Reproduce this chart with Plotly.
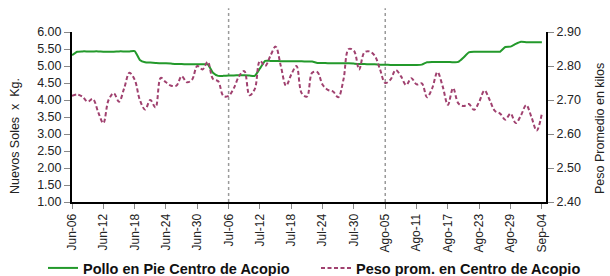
import pandas as pd
import plotly.graph_objects as go

# ---- data ----
start_date = "2014-06-06"
pollo_precio = [
    5.32, 5.42, 5.43, 5.43, 5.43, 5.43, 5.42, 5.42, 5.42, 5.43,
    5.43, 5.43, 5.44, 5.18, 5.11, 5.10, 5.09, 5.08, 5.08, 5.07,
    5.06, 5.06, 5.05, 5.05, 5.05, 5.05, 5.05, 4.80, 4.71, 4.71,
    4.72, 4.72, 4.73, 4.73, 4.72, 4.71, 4.93, 5.15, 5.15, 5.15,
    5.14, 5.14, 5.14, 5.14, 5.14, 5.13, 5.13, 5.09, 5.09, 5.08,
    5.08, 5.08, 5.08, 5.08, 5.07, 5.06, 5.06, 5.05, 5.05, 5.04,
    5.04, 5.03, 5.03, 5.03, 5.03, 5.03, 5.03, 5.04, 5.11, 5.12,
    5.12, 5.12, 5.12, 5.11, 5.12, 5.25, 5.40, 5.42, 5.42, 5.42,
    5.42, 5.42, 5.42, 5.56, 5.57, 5.65, 5.71, 5.70, 5.70, 5.70,
    5.70,
]
peso_prom = [
    2.712, 2.716, 2.710, 2.695, 2.703, 2.665, 2.632, 2.700, 2.720, 2.695,
    2.735, 2.780, 2.760, 2.700, 2.672, 2.700, 2.678, 2.765, 2.752, 2.742,
    2.742, 2.770, 2.752, 2.760, 2.800, 2.790, 2.812, 2.762, 2.755, 2.712,
    2.712, 2.735, 2.770, 2.785, 2.714, 2.732, 2.815, 2.800, 2.830, 2.857,
    2.800, 2.742, 2.775, 2.800, 2.720, 2.710, 2.780, 2.782, 2.745, 2.730,
    2.725, 2.708, 2.760, 2.850, 2.845, 2.790, 2.840, 2.843, 2.830, 2.790,
    2.750, 2.760, 2.788, 2.770, 2.744, 2.764, 2.746, 2.749, 2.708, 2.735,
    2.782, 2.740, 2.686, 2.735, 2.690, 2.682, 2.688, 2.671, 2.695, 2.728,
    2.700, 2.668, 2.660, 2.642, 2.660, 2.632, 2.655, 2.685, 2.650, 2.610,
    2.660,
]
tick_labels = ["Jun-06", "Jun-12", "Jun-18", "Jun-24", "Jun-30", "Jul-06",
               "Jul-12", "Jul-18", "Jul-24", "Jul-30", "Ago-05", "Ago-11",
               "Ago-17", "Ago-23", "Ago-29", "Sep-04"]
marker_dates = ["2014-07-06", "2014-08-05"]
serie1_name = "Pollo en Pie Centro de Acopio"
serie2_name = "Peso prom. en Centro de Acopio"
left_title = "Nuevos Soles  x  Kg."
right_title = "Peso Promedio en kilos"

dates = pd.date_range(start_date, periods=len(pollo_precio), freq="D")
tick_vals = pd.date_range(start_date, periods=len(tick_labels), freq="6D")

FONT = "Arial, Liberation Sans, sans-serif"
GREEN = "#23992b"
PURPLE = "#a0416f"

fig = go.Figure()
fig.add_trace(go.Scatter(
    x=dates, y=pollo_precio, name=serie1_name, mode="lines",
    line=dict(color=GREEN, width=2, shape="spline", smoothing=0.5),
    yaxis="y",
))
fig.add_trace(go.Scatter(
    x=dates, y=peso_prom, name=serie2_name, mode="lines",
    line=dict(color=PURPLE, width=2, dash="4px,2.5px", shape="spline", smoothing=1),
    yaxis="y2",
))

for d in marker_dates:
    fig.add_shape(type="line", xref="x", yref="paper", x0=d, x1=d, y0=0, y1=1.14,
                  line=dict(color="#9a9a9a", width=1.5, dash="dot"), layer="below")

fig.update_layout(
    width=610, height=276,
    margin=dict(l=72, r=64, t=32, b=74, autoexpand=False),
    paper_bgcolor="white", plot_bgcolor="white",
    font=dict(family=FONT, size=12, color="#222222"),
    showlegend=True,
    legend=dict(orientation="h", xref="paper", yref="paper",
                x=(43 - 72) / 474, xanchor="left", y=(202 - 268) / 170, yanchor="middle",
                font=dict(family=FONT, size=14.5, color="#111111", weight="bold"),
                entrywidth=228, entrywidthmode="pixels",
                itemwidth=30, bgcolor="rgba(0,0,0,0)", tracegroupgap=0),
    xaxis=dict(
        type="date", automargin=False,
        range=[dates[0], dates[-1] + pd.Timedelta(hours=19)],
        tickmode="array", tickvals=tick_vals, ticktext=tick_labels,
        tickangle=-90, ticks="outside", ticklen=5, tickcolor="#888888", tickwidth=1,
        showline=True, linecolor="black", linewidth=2, showgrid=False, zeroline=False,
        tickfont=dict(size=12),
    ),
    yaxis=dict(
        range=[1, 6], dtick=0.5, tick0=1, tickformat=".2f", automargin=False,
        ticks="outside", ticklen=6, tickcolor="#888888", tickwidth=1,
        showline=True, linecolor="black", linewidth=2, showgrid=False, zeroline=False,
        tickfont=dict(size=12.5),
    ),
    yaxis2=dict(
        range=[2.4, 2.9], dtick=0.1, tick0=2.4, tickformat=".2f", automargin=False,
        overlaying="y", side="right",
        ticks="outside", ticklen=6, tickcolor="#888888", tickwidth=1,
        showline=True, linecolor="black", linewidth=2, showgrid=False, zeroline=False,
        tickfont=dict(size=12.5),
    ),
    annotations=[
        dict(text=left_title, xref="paper", yref="paper", x=(15 - 72) / 474,
             y=(202 - 136) / 170, textangle=-90, showarrow=False,
             font=dict(size=12.5, color="#222222"), xanchor="center", yanchor="middle"),
        dict(text=right_title, xref="paper", yref="paper", x=(600 - 72) / 474,
             y=(202 - 129) / 170, textangle=-90, showarrow=False,
             font=dict(size=12.5, color="#222222"), xanchor="center", yanchor="middle"),
    ],
)

fig.write_html(
    "out.html",
    config={"displayModeBar": False},
    post_script="document.body.style.margin='0px';document.body.style.overflow='hidden';",
)
